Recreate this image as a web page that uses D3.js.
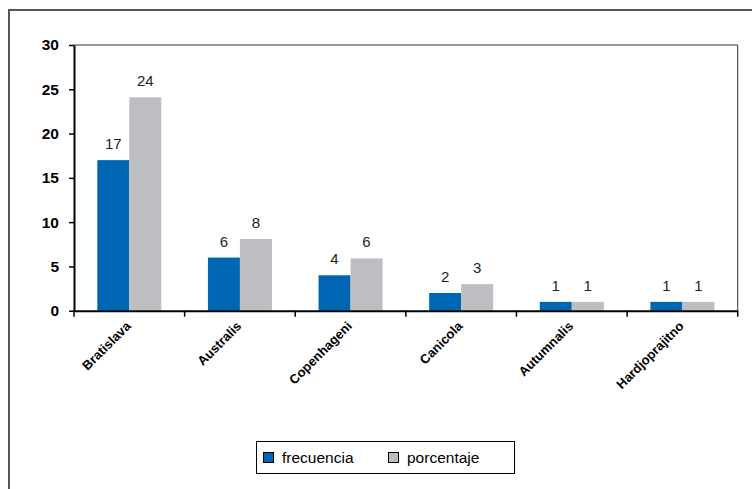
<!DOCTYPE html>
<html><head><meta charset="utf-8">
<script src="https://cdn.jsdelivr.net/npm/d3@7"></script>
<style>body{margin:0;background:#fff}svg{display:block;font-family:"Liberation Sans",Arial,sans-serif}</style>
</head><body><svg id="c" width="752" height="489"></svg>
<script>
const categories = ["Bratislava","Australis","Copenhageni","Canicola","Autumnalis","Hardjoprajitno"];
const frecuencia = [17, 6, 4, 2, 1, 1];
const porcentaje = [24.1, 8.1, 5.9, 3.0, 1.0, 1.0];
const seriesNames = ["frecuencia","porcentaje"];
const yTicks = [0,5,10,15,20,25,30];
const colors = ["#0066b3","#bdbec2"];

const svg = d3.select("#c");
svg.append("rect").attr("x",9).attr("y",10).attr("width",800).attr("height",600)
  .attr("fill","none").attr("stroke","#555").attr("stroke-width",2);

const L=74, R=737.7, T=45, B=310.7;
const x = d3.scaleBand().domain(categories).range([L,R]);
const y = d3.scaleLinear().domain([0,30]).range([B,T]);
const barW = 32;

svg.append("path").attr("d",`M${L},${T}H${R}V${B}`).attr("fill","none").attr("stroke","#333").attr("stroke-width",1);

const data = categories.map((c,i)=>({c, v:[frecuencia[i], porcentaje[i]]}));
const g = svg.append("g");
data.forEach(d=>{
  d.v.forEach((v,k)=>{
    const cx = x(d.c) + x.bandwidth()/2 - barW + k*barW;
    g.append("rect").attr("x",cx).attr("y",y(v)).attr("width",barW).attr("height",y(0)-y(v)).attr("fill",colors[k]);
    g.append("text").attr("x",cx+barW/2).attr("y",y(v)-11).attr("text-anchor","middle")
      .attr("font-size",15).attr("fill","#222").text(d3.format(".0f")(v));
  });
});

const ya = svg.append("g").attr("transform",`translate(${L},0)`)
  .call(d3.axisLeft(y).tickValues(yTicks).tickSize(5).tickPadding(10).tickSizeOuter(0));
ya.select(".domain").attr("stroke","#000").attr("stroke-width",2);
ya.selectAll("line").attr("stroke","#000").attr("stroke-width",1.5);
ya.selectAll("text").attr("font-size",15.5).attr("font-weight","bold").attr("fill","#000").attr("font-family","Liberation Sans, Arial, sans-serif");

const xa = svg.append("g").attr("transform",`translate(0,${B})`)
  .call(d3.axisBottom(x).tickSize(0).tickFormat(""));
xa.select(".domain").attr("stroke","#000").attr("stroke-width",2);
const edges = categories.map(c=>x(c)).concat([R]);
svg.append("g").selectAll("line").data(edges).join("line")
  .attr("x1",d=>d).attr("x2",d=>d).attr("y1",B).attr("y2",B+6).attr("stroke","#000").attr("stroke-width",1.5);
svg.append("g").selectAll("text").data(categories).join("text")
  .attr("transform",d=>`translate(${x(d)+x.bandwidth()/2-1},${B+13}) rotate(-45)`)
  .attr("text-anchor","end").attr("dy","0.35em").attr("font-size",13).attr("font-weight","bold").attr("fill","#000")
  .text(d=>d);

const lg = svg.append("g");
lg.append("rect").attr("x",256.5).attr("y",441.5).attr("width",258).attr("height",32).attr("fill","#fff").attr("stroke","#000");
const lx = [263, 388];
seriesNames.forEach((s,k)=>{
  lg.append("rect").attr("x",lx[k]+0.5).attr("y",452.5).attr("width",10).attr("height",10).attr("fill",colors[k]).attr("stroke","#000");
  lg.append("text").attr("x",lx[k]+19).attr("y",463).attr("font-size",15.5).attr("fill","#000").text(s);
});
</script></body></html>
